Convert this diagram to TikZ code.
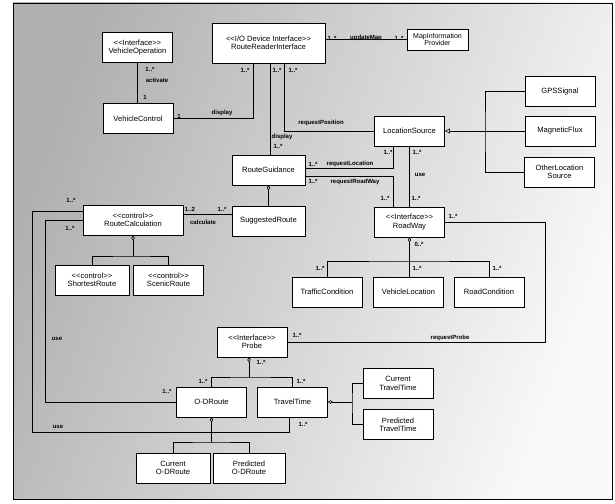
\documentclass[tikz,border=0pt]{standalone}
\usepackage{fontspec}
\setsansfont{Liberation Sans}
\usetikzlibrary{arrows.meta}

\newcommand\stereo[1]{<\kern0pt<#1>\kern0pt>}

\tikzset{
  cls/.style={draw, thick, fill=white, align=center, minimum width=70pt,
    minimum height=30pt, inner sep=1pt, font=\sffamily\fontsize{7.6}{8.4}\selectfont},
  mult/.style={font=\sffamily\bfseries\fontsize{6}{6.5}\selectfont, inner sep=0pt},
  assoc/.style={semithick},
  aggr/.style={semithick, {Diamond[open, length=5pt, width=3.5pt]}-},
  gen/.style={semithick, {Triangle[open, length=5pt, width=5pt]}-},
}

\begin{document}
\begin{tikzpicture}[x=1pt,y=-1pt]

% Fond
\useasboundingbox (0,0) rectangle (615,503);
\shade[top color=gray!62, bottom color=gray!4, shading angle=70] (13,3) rectangle (612,499);
\draw[thick] (13,3) rectangle (612,499);

% Classes
\node[cls] (vop) at (137.5,47.5) {\stereo{Interface}\\VehicleOperation};
\node[cls, minimum width=113pt, minimum height=40pt] (rri) at (268.5,43) {\stereo{I/O Device Interface}\\RouteReaderInterface};
\node[cls, minimum width=61pt, minimum height=21pt, font=\sffamily\fontsize{7}{7.6}\selectfont] (mip) at (437.5,39.5) {MapInformation\\Provider};
\node[cls] (vctl) at (138,118.5) {VehicleControl};
\node[cls] (gps) at (560,91.5) {GPSSignal};
\node[cls] (mag) at (560,131) {MagneticFlux};
\node[cls] (oth) at (559.5,172) {OtherLocation\\Source};
\node[cls] (loc) at (409.5,131) {LocationSource};
\node[cls, minimum width=73pt] (rg) at (268.5,170) {RouteGuidance};
\node[cls, minimum width=73pt] (sr) at (268.5,221) {SuggestedRoute};
\node[cls, minimum width=100pt] (rc) at (133,220) {\stereo{control}\\RouteCalculation};
\node[cls, minimum width=74pt] (shr) at (92,280) {\stereo{control}\\ShortestRoute};
\node[cls] (scr) at (168.5,280) {\stereo{control}\\ScenicRoute};
\node[cls] (rw) at (409.5,222) {\stereo{Interface}\\RoadWay};
\node[cls] (tc) at (327,292) {TrafficCondition};
\node[cls] (vl) at (408.5,292) {VehicleLocation};
\node[cls] (rdc) at (489,292) {RoadCondition};
\node[cls] (pr) at (252,342) {\stereo{Interface}\\Probe};
\node[cls] (odr) at (211.5,402) {O-DRoute};
\node[cls] (tt) at (292.5,402) {TravelTime};
\node[cls] (ctt) at (398,383.5) {Current\\TravelTime};
\node[cls] (ptt) at (398,424.5) {Predicted\\TravelTime};
\node[cls, minimum width=74pt] (codr) at (173,468) {Current\\O-DRoute};
\node[cls, minimum width=72pt] (podr) at (249,468) {Predicted\\O-DRoute};

% Points de coude
\coordinate (lsbar) at (485,131);
\coordinate (rwbar) at (409.5,261);
\coordinate (prbend) at (545,342);
\coordinate (rcbar) at (133,256);
\coordinate (useA) at (45,402);
\coordinate (useB) at (32,432);
\coordinate (prbar) at (249,377);
\coordinate (odrbar) at (211.5,442);
\coordinate (ttbar) at (352,402);

% Associations
\draw[assoc] (vop.south) -- (vop.south |- vctl.north);
\draw[assoc] (vctl.east) -| ([xshift=-15.5pt]rri.south);
\draw[assoc] ([xshift=1.5pt]rri.south) -- ([xshift=1.5pt]rg.north);
\draw[assoc] ([xshift=15.5pt]rri.south) |- (loc.west);
\draw[assoc] (rri.east |- mip.west) -- (mip.west);
\draw[assoc] ([yshift=2pt]rg.east) -| ([xshift=-16.5pt]loc.south);
\draw[assoc] ([yshift=-6pt]rg.east) -| ([xshift=-16.5pt]rw.north);
\draw[assoc] (loc.south) -- (rw.north);
\draw[assoc] (rw.east) -| (prbend) -- (pr.east);
\draw[assoc] ([yshift=6pt]rc.east) -- ([yshift=7pt]sr.west);
\draw[assoc] (rc.west) -| (useA) -- (odr.west);
\draw[assoc] ([yshift=9pt]rc.west) -| (useB) -| ([xshift=-3pt]tt.south);

% Generalisation / agregation
\draw[gen] (loc.east) -- (mag.west);
\draw[assoc] (gps.west) -| (lsbar) |- (oth.west);
\draw[aggr] (rw.south) -- (rw.south |- vl.north);
\draw[assoc] (tc.north) |- (rwbar) -| (rdc.north);
\draw[aggr] (rg.south) -- (sr.north);
\draw[aggr] (rc.south) -- (rcbar);
\draw[assoc] (shr.north) |- (rcbar) -| (scr.north);
\draw[aggr] ([xshift=-3pt]pr.south) -- (prbar);
\draw[assoc] (odr.north) |- (prbar) -| (tt.north);
\draw[aggr] (odr.south) -- (odrbar);
\draw[assoc] (codr.north) |- (odrbar) -| (podr.north);
\draw[aggr] (tt.east) -- (ttbar);
\draw[assoc] (ctt.west) -| (ttbar) |- (ptt.west);

% Etiquettes
\foreach \px/\py/\txt [count=\i] in {
  150/69/1..*, 157/80/activate, 145/97/1, 179/116/1, 222/113/display,
  245/70/1..*, 277/70/1..*, 293/70/1..*, 282/137/display, 278/146/1..*,
  321/123/requestPosition, 332/38/1..*, 366/38/updateMap, 399/38/1..*,
  313/164/1..*, 350/164/requestLocation, 388/152/1..*, 417/152/1..*,
  313/181/1..*, 355/182/requestRoadWay, 385/198/1..*, 420/175/use,
  416/198/1..*, 453/216/1..*, 419/244/0..*, 320/268/1..*, 417/268/1..*,
  497/268/1..*, 450/338/requestProbe, 297/335/1..*, 190/209/1..2,
  203/222/calculate, 222/209/1..*, 71/200/1..*, 70/228/1..*, 57/339/use,
  167/391/1..*, 58/427/use, 303/424/1..*, 261/362/1..*, 203/381/1..*,
  301/381/1..*}
{
  \node[mult] (lab\i) at (\px,\py) {\txt};
}

\end{tikzpicture}
\end{document}
